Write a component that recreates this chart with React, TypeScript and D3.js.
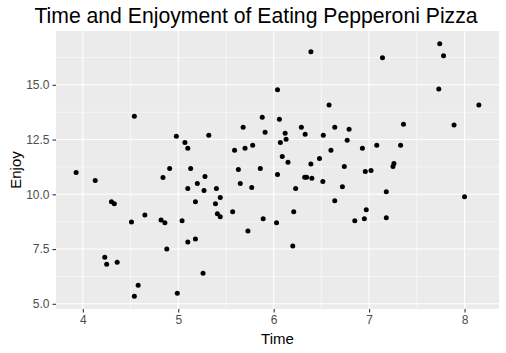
import * as d3 from "d3";
import { useEffect, useRef } from "react";

// readings of the 100 points (Time, Enjoy)
const time = [
  3.93, 4.13, 4.54, 4.84, 4.30, 4.33, 4.65, 4.51, 4.82, 4.86,
  4.88, 4.23, 4.25, 4.36, 4.58, 4.54, 4.91, 4.98, 5.07, 5.10,
  5.13, 5.28, 5.32, 5.59, 5.63, 5.68, 5.70, 5.78, 5.86, 5.88,
  5.91, 6.04, 6.04, 6.06, 6.07, 6.09, 6.12, 6.13, 6.15, 6.29,
  6.33, 6.325, 6.345, 6.39, 6.39, 6.40, 6.48, 6.52, 6.515, 6.58,
  6.60, 7.74, 7.78, 7.14, 7.73, 8.15, 7.36, 7.89, 6.64, 6.79,
  6.77, 6.93, 7.08, 7.33, 6.74, 6.96, 7.02, 7.25, 7.26, 6.72,
  7.18, 8.00, 6.64, 6.97, 6.95, 6.85, 7.18, 5.10, 5.20, 5.27,
  5.40, 5.65, 5.77, 6.23, 5.44, 5.18, 5.39, 5.41, 5.44, 5.57,
  5.89, 6.03, 6.21, 5.73, 5.04, 5.10, 5.18, 6.20, 5.26, 4.99,
];
const enjoy = [
  11.00, 10.63, 13.57, 10.77, 9.66, 9.57, 9.06, 8.74, 8.83, 8.70,
  7.50, 7.13, 6.81, 6.90, 5.85, 5.34, 11.18, 12.65, 12.37, 12.10,
  11.18, 10.81, 12.70, 12.01, 11.13, 13.06, 12.10, 12.24, 11.18, 13.52,
  12.83, 14.77, 10.90, 13.43, 12.37, 11.73, 12.79, 12.51, 11.46, 13.06,
  12.74, 10.78, 10.78, 16.51, 11.38, 10.73, 11.64, 12.70, 10.58, 14.08,
  12.01, 16.88, 16.33, 16.24, 14.81, 14.08, 13.20, 13.16, 13.06, 12.97,
  12.47, 12.10, 12.24, 12.24, 11.27, 11.04, 11.09, 11.27, 11.41, 10.35,
  10.12, 9.89, 9.71, 9.29, 8.88, 8.79, 8.93, 10.26, 10.49, 10.17,
  10.26, 10.49, 10.31, 10.26, 9.85, 9.66, 9.57, 9.11, 8.97, 9.20,
  8.88, 8.70, 9.20, 8.33, 8.79, 7.82, 7.96, 7.64, 6.40, 5.48,
];

const xTicks = [4, 5, 6, 7, 8];
const xMinor = [4.5, 5.5, 6.5, 7.5];
const yTicks = [5, 7.5, 10, 12.5, 15];
const yMinor = [6.25, 8.75, 11.25, 13.75, 16.25];

export default function App() {
  const ref = useRef(null);

  useEffect(() => {
    const svg = d3.select(ref.current);
    svg.selectAll("*").remove();

    const width = 506;
    const height = 353;
    const margin = { top: 31, right: 7, bottom: 44, left: 56 };
    const plotW = width - margin.left - margin.right;
    const plotH = height - margin.top - margin.bottom;
    const font = "'Liberation Sans', Arial, sans-serif";

    const points = time.map((t, i) => ({ t, e: enjoy[i] }));

    // ggplot style 5% expansion
    const xr = d3.extent(time);
    const yr = d3.extent(enjoy);
    const xPad = (xr[1] - xr[0]) * 0.05;
    const yPad = (yr[1] - yr[0]) * 0.05;

    const x = d3.scaleLinear().domain([xr[0] - xPad, xr[1] + xPad]).range([0, plotW]);
    const y = d3.scaleLinear().domain([yr[0] - yPad, yr[1] + yPad]).range([plotH, 0]);

    svg.append("rect").attr("width", width).attr("height", height).attr("fill", "#fff");

    const g = svg.append("g").attr("transform", `translate(${margin.left},${margin.top})`);

    g.append("rect").attr("width", plotW).attr("height", plotH).attr("fill", "#EBEBEB");

    // minor grid
    g.selectAll(".xminor").data(xMinor).enter().append("line")
      .attr("x1", d => x(d)).attr("x2", d => x(d))
      .attr("y1", 0).attr("y2", plotH)
      .attr("stroke", "#fff").attr("stroke-width", 0.55);
    g.selectAll(".yminor").data(yMinor).enter().append("line")
      .attr("y1", d => y(d)).attr("y2", d => y(d))
      .attr("x1", 0).attr("x2", plotW)
      .attr("stroke", "#fff").attr("stroke-width", 0.55);

    // major grid
    g.selectAll(".xmajor").data(xTicks).enter().append("line")
      .attr("x1", d => x(d)).attr("x2", d => x(d))
      .attr("y1", 0).attr("y2", plotH)
      .attr("stroke", "#fff").attr("stroke-width", 1.1);
    g.selectAll(".ymajor").data(yTicks).enter().append("line")
      .attr("y1", d => y(d)).attr("y2", d => y(d))
      .attr("x1", 0).attr("x2", plotW)
      .attr("stroke", "#fff").attr("stroke-width", 1.1);

    // axes
    const xAxis = g.append("g")
      .attr("transform", `translate(0,${plotH})`)
      .call(d3.axisBottom(x).tickValues(xTicks).tickSize(3.5).tickPadding(3).tickFormat(d3.format("d")));
    const yAxis = g.append("g")
      .call(d3.axisLeft(y).tickValues(yTicks).tickSize(3.5).tickPadding(3).tickFormat(d3.format(".1f")));

    [xAxis, yAxis].forEach(a => {
      a.select(".domain").remove();
      a.selectAll("line").attr("stroke", "#333333").attr("stroke-width", 1.1);
      a.selectAll("text")
        .attr("fill", "#4D4D4D")
        .style("font-family", font)
        .style("font-size", "12px");
    });

    // points
    g.selectAll("circle")
      .data(points)
      .enter()
      .append("circle")
      .attr("cx", d => x(d.t))
      .attr("cy", d => y(d.e))
      .attr("r", 2.5)
      .attr("fill", "#000");

    // title and axis labels
    svg.append("text")
      .attr("x", 256)
      .attr("y", 23)
      .attr("text-anchor", "middle")
      .style("font-family", font)
      .style("font-size", "21.2px")
      .attr("fill", "#000")
      .text("Time and Enjoyment of Eating Pepperoni Pizza");

    svg.append("text")
      .attr("x", margin.left + plotW / 2)
      .attr("y", 344)
      .attr("text-anchor", "middle")
      .style("font-family", font)
      .style("font-size", "15px")
      .attr("fill", "#000")
      .text("Time");

    svg.append("text")
      .attr("transform", `translate(21,${margin.top + plotH / 2}) rotate(-90)`)
      .attr("text-anchor", "middle")
      .style("font-family", font)
      .style("font-size", "15px")
      .attr("fill", "#000")
      .text("Enjoy");
  }, []);

  return (
    <svg ref={ref} width={506} height={353} style={{ position: "absolute", left: 0, top: 0, display: "block" }} />
  );
}
